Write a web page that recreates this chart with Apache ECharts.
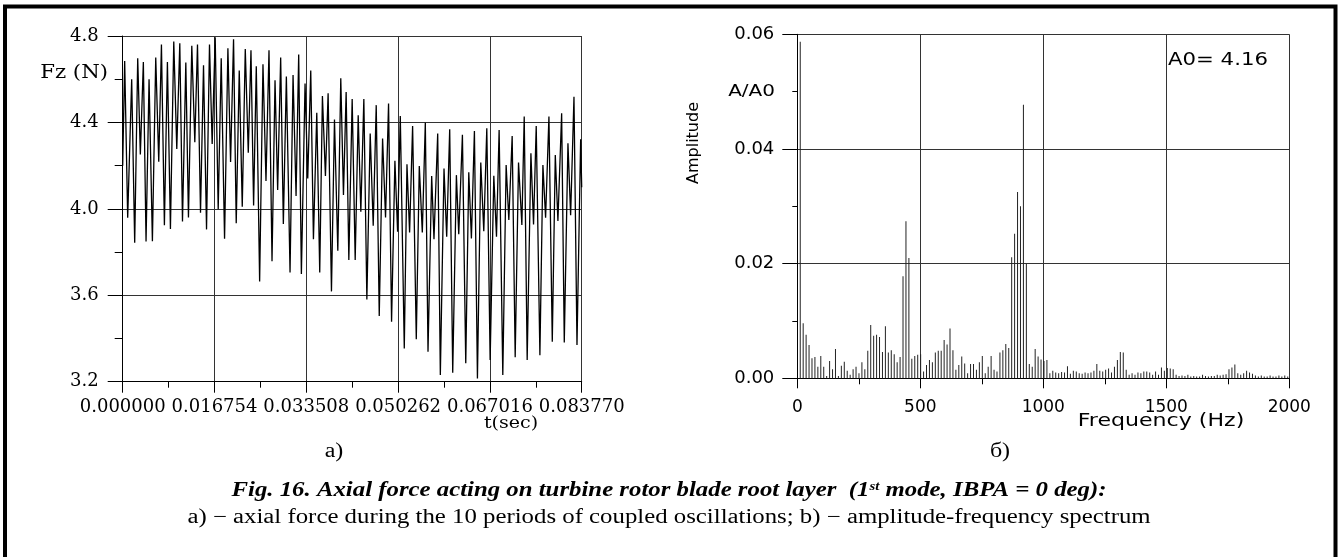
<!DOCTYPE html>
<html>
<head>
<meta charset="utf-8">
<title>Fig. 16</title>
<script src="https://cdn.jsdelivr.net/npm/echarts@6.0.0/dist/echarts.min.js"></script>
<style>
  * { margin: 0; padding: 0; }
  body { background: #fff; }
  #main { width: 1339px; height: 557px; }
</style>
</head>
<body>
<div id="main"></div>
<script>
  // a) axial force Fz(t), peaks and troughs
  var tSec = [
    0, 0.00036, 0.00091, 0.00164, 0.00219, 0.00274, 0.00322, 0.00377, 0.00426, 0.00481,
    0.00542, 0.00603, 0.00658, 0.00707, 0.00761, 0.00816, 0.00871, 0.00932, 0.00987, 0.01042,
    0.01091, 0.01152, 0.01200, 0.01261, 0.01316, 0.01365, 0.01420, 0.01475, 0.01530, 0.01584,
    0.01633, 0.01688, 0.01743, 0.01798, 0.01859, 0.01920, 0.01969, 0.02023, 0.02072, 0.02127,
    0.02182, 0.02237, 0.02292, 0.02341, 0.02389, 0.02438, 0.02499, 0.02560, 0.02615, 0.02670,
    0.02725, 0.02780,
    0.02828, 0.02883, 0.02932, 0.02987, 0.03054, 0.03109, 0.03164, 0.03212, 0.03261, 0.03328,
    0.03377, 0.03432, 0.03481, 0.03542, 0.03596, 0.03645, 0.03700, 0.03749, 0.03810, 0.03865,
    0.03926, 0.03980, 0.04029, 0.04078, 0.04127, 0.04188, 0.04243, 0.04298, 0.04346, 0.04401,
    0.04456, 0.04517, 0.04572, 0.04627, 0.04682, 0.04743, 0.04797, 0.04852, 0.04907, 0.04968,
    0.05017, 0.05066, 0.05139, 0.05188, 0.05236, 0.05291, 0.05358, 0.05413, 0.05468, 0.05523,
    0.05572, 0.05639,
    0.05681, 0.05749, 0.05797, 0.05864, 0.05913, 0.05968, 0.06023, 0.06090, 0.06133, 0.06200,
    0.06261, 0.06316, 0.06364, 0.06419, 0.06474, 0.06535, 0.06590, 0.06645, 0.06706, 0.06773,
    0.06822, 0.06870, 0.06937, 0.06998, 0.07047, 0.07108, 0.07163, 0.07224, 0.07285, 0.07328,
    0.07382, 0.07450, 0.07498, 0.07547, 0.07614, 0.07669, 0.07718, 0.07779, 0.07840, 0.07895,
    0.07943, 0.08011, 0.08059, 0.08126, 0.08175, 0.08236, 0.08291, 0.08358, 0.08377
  ];
  var fzN = [
    4.20, 4.684, 3.959, 4.60, 3.843, 4.697, 4.252, 4.68, 3.849, 4.60,
    3.85, 4.70, 4.218, 4.761, 3.924, 4.68, 3.907, 4.775, 4.277, 4.766,
    3.942, 4.677, 3.96, 4.755, 4.308, 4.761, 3.982, 4.664, 3.905, 4.761,
    4.30, 4.794, 3.998, 4.697, 3.862, 4.743, 4.217, 4.785, 3.933, 4.64,
    4.01, 4.74, 4.26, 4.734, 4.015, 4.66, 3.664, 4.669, 4.129, 4.734,
    3.757, 4.595,
    4.087, 4.701, 3.93, 4.612, 3.706, 4.62, 4.059, 4.714, 3.698, 4.58,
    4.141, 4.64, 3.859, 4.445, 3.706, 4.522, 4.152, 4.535, 3.618, 4.414,
    3.806, 4.604, 4.064, 4.541, 3.763, 4.508, 3.763, 4.433, 3.987, 4.508,
    3.581, 4.349, 3.922, 4.48, 3.504, 4.326, 3.96, 4.488, 3.478, 4.223,
    3.894, 4.43, 3.354, 4.206, 3.891, 4.383, 3.396, 4.198, 3.891, 4.399,
    3.339, 4.152,
    3.859, 4.349, 3.231, 4.187, 3.871, 4.368, 3.242, 4.156, 3.883, 4.343,
    3.285, 4.169, 3.863, 4.36, 3.215, 4.214, 3.896, 4.373, 3.30, 4.153,
    3.871, 4.365, 3.231, 4.203, 3.948, 4.337, 3.313, 4.214, 3.925, 4.427,
    3.30, 4.257, 3.928, 4.383, 3.323, 4.203, 3.959, 4.427, 3.385, 4.249,
    3.944, 4.442, 3.382, 4.303, 3.971, 4.519, 3.37, 4.322, 4.10
  ];

  // б) spectrum, one bar per FFT bin (bin step = 1 / record length)
  var recordLength = 0.08377;
  var ampA = [
    0.0587, 0.0096, 0.0076, 0.0058, 0.0035, 0.0037, 0.0020, 0.0039, 0.0020, 0.0004,
    0.0030, 0.0016, 0.0051, 0.0004, 0.0022, 0.0029, 0.0013, 0.0006, 0.0016, 0.0020,
    0.0009, 0.0028, 0.0016, 0.0048, 0.0093, 0.0074, 0.0076, 0.0072, 0.0046, 0.0091,
    0.0045, 0.0049, 0.0042, 0.0028, 0.0037, 0.0178, 0.0274, 0.0210, 0.0034, 0.0039,
    0.0041, 0.0042, 0.0012, 0.0023, 0.0032, 0.0028, 0.0045, 0.0048, 0.0048, 0.0067,
    0.0059, 0.0087, 0.0049, 0.0015, 0.0023, 0.0038, 0.0026, 0.0009, 0.0025, 0.0025,
    0.0015, 0.0028, 0.0039, 0.0009, 0.0020, 0.0039, 0.0015, 0.0012, 0.0045, 0.0049,
    0.0060, 0.0053, 0.0211, 0.0252, 0.0325, 0.0300, 0.0477, 0.0200, 0.0025, 0.0020,
    0.0051, 0.0038, 0.0033, 0.0030, 0.0032, 0.0009, 0.0013, 0.0010, 0.0009, 0.0011,
    0.0010, 0.0021, 0.0008, 0.0013, 0.0012, 0.0009, 0.0008, 0.0010, 0.0009, 0.0010,
    0.0013, 0.0025, 0.0013, 0.0012, 0.0015, 0.0017, 0.0010, 0.0020, 0.0032, 0.0046,
    0.0045, 0.0015, 0.0006, 0.0009, 0.0006, 0.0010, 0.0009, 0.0012, 0.0012, 0.0010,
    0.0006, 0.0012, 0.0006, 0.0019, 0.0013, 0.0018, 0.0017, 0.0016, 0.0006, 0.0004,
    0.0005, 0.0004, 0.0006, 0.0003, 0.0004, 0.0003, 0.0003, 0.0006, 0.0004, 0.0003,
    0.0004, 0.0004, 0.0006, 0.0005, 0.0006, 0.0007, 0.0016, 0.0019, 0.0024, 0.0009,
    0.0006, 0.0009, 0.0013, 0.0010, 0.0008, 0.0005, 0.0003, 0.0005, 0.0003, 0.0003,
    0.0005, 0.0003, 0.0003, 0.0005, 0.0003, 0.0005, 0.0003
  ];

  // axis ranges / ticks
  var tRange = [0, 0.08377], tStep = 0.016754;
  var fzRange = [3.2, 4.8], fzStep = 0.4;
  var freqRange = [0, 2000], freqStep = 500;
  var ampRange = [0, 0.06], ampStep = 0.02;

  var forceData = tSec.map(function (t, i) { return [t, fzN[i]]; });
  var specData = ampA.map(function (a, i) { return [(i + 1) / recordLength, a]; });

  var serif = 'DejaVu Serif';
  var sans = 'DejaVu Sans';
  var gridLine = { show: true, lineStyle: { color: '#333', width: 1 } };

  function valueAxis(grid, range, step, digits, font, size, margin, tickLen, minorLen) {
    return {
      gridIndex: grid,
      type: 'value',
      min: range[0],
      max: range[1],
      interval: step,
      axisLine: { show: true, onZero: false, lineStyle: { color: '#000', width: 1 } },
      axisTick: { show: true, length: tickLen, lineStyle: { color: '#000', width: 1 } },
      minorTick: { show: true, splitNumber: 2, length: minorLen, lineStyle: { color: '#000', width: 1 } },
      splitLine: gridLine,
      axisLabel: {
        formatter: function (v) { return v.toFixed(digits); },
        fontFamily: font,
        fontSize: size,
        color: '#000',
        margin: margin
      }
    };
  }

  // text helper, the figure's lettering is a bit stretched sideways
  function label(x, y, text, font, align, sx, extra) {
    var el = {
      type: 'text', x: x, y: y, scaleX: sx || 1,
      style: { text: text, font: font, fill: '#000', textAlign: align, textVerticalAlign: 'middle' }
    };
    if (extra) { for (var k in extra) el[k] = extra[k]; }
    return el;
  }

  var chart = echarts.init(document.getElementById('main'), null, { renderer: 'canvas' });
  chart.setOption({
    animation: false,
    backgroundColor: '#fff',
    grid: [
      { left: 122.7, top: 36, width: 459, height: 345.7, outerBoundsMode: 'none' },
      { left: 797.3, top: 34.3, width: 492, height: 344, outerBoundsMode: 'none' }
    ],
    xAxis: [
      valueAxis(0, tRange, tStep, 6, serif, 18, 17, 11, 6),
      valueAxis(1, freqRange, freqStep, 0, sans, 17, 21, 10, 6)
    ],
    yAxis: [
      valueAxis(0, fzRange, fzStep, 1, serif, 18, 24, 15, 8),
      valueAxis(1, ampRange, ampStep, 2, sans, 18, 23, 15, 5)
    ],
    series: [
      {
        type: 'line',
        xAxisIndex: 0,
        yAxisIndex: 0,
        data: forceData,
        showSymbol: false,
        lineStyle: { color: '#000', width: 1.3 }
      },
      {
        type: 'bar',
        xAxisIndex: 1,
        yAxisIndex: 1,
        data: specData,
        barWidth: 1,
        itemStyle: { color: '#222' }
      }
    ],
    graphic: [
      // frame
      { type: 'polyline', shape: { points: [[5, 557], [5, 6.5], [1335.5, 6.5], [1335.5, 557]] },
        style: { stroke: '#000', lineWidth: 4, fill: null } },
      // left panel labels
      label(108, 73, 'Fz (N)', '18px "' + serif + '"', 'right', 1.18),
      label(511, 424, 't(sec)', '17px "' + serif + '"', 'center', 1.12),
      label(334, 452, 'a)', '20px "Liberation Serif"', 'center', 1.2),
      // right panel labels
      label(775, 92, 'A/A0', '16px "' + sans + '"', 'right', 1.25),
      label(694, 143, 'Amplitude', '16px "' + sans + '"', 'center', 1, { rotation: Math.PI / 2 }),
      label(1168, 61, 'A0= 4.16', '17px "' + sans + '"', 'left', 1.25),
      label(1161, 422, 'Frequency (Hz)', '17px "' + sans + '"', 'center', 1.3),
      label(1000, 452, 'б)', '20px "Liberation Serif"', 'center', 1.2),
      // caption
      { type: 'text', x: 669, y: 491, scaleX: 1.24, style: {
          text: '{b|Fig. 16. Axial force acting on turbine rotor blade root layer  (1}{s|st}{b| mode, IBPA = 0 deg):}',
          textAlign: 'center', textVerticalAlign: 'middle',
          rich: {
            b: { fontFamily: 'Liberation Serif', fontSize: 20, fontWeight: 'bold', fontStyle: 'italic', color: '#000' },
            s: { fontFamily: 'Liberation Serif', fontSize: 12, fontWeight: 'bold', fontStyle: 'italic', color: '#000', verticalAlign: 'top' }
          } } },
      label(669, 518, 'a) \u2212 axial force during the 10 periods of coupled oscillations; b) \u2212 amplitude-frequency spectrum',
        '20px "Liberation Serif"', 'center', 1.24)
    ]
  });
</script>
</body>
</html>
